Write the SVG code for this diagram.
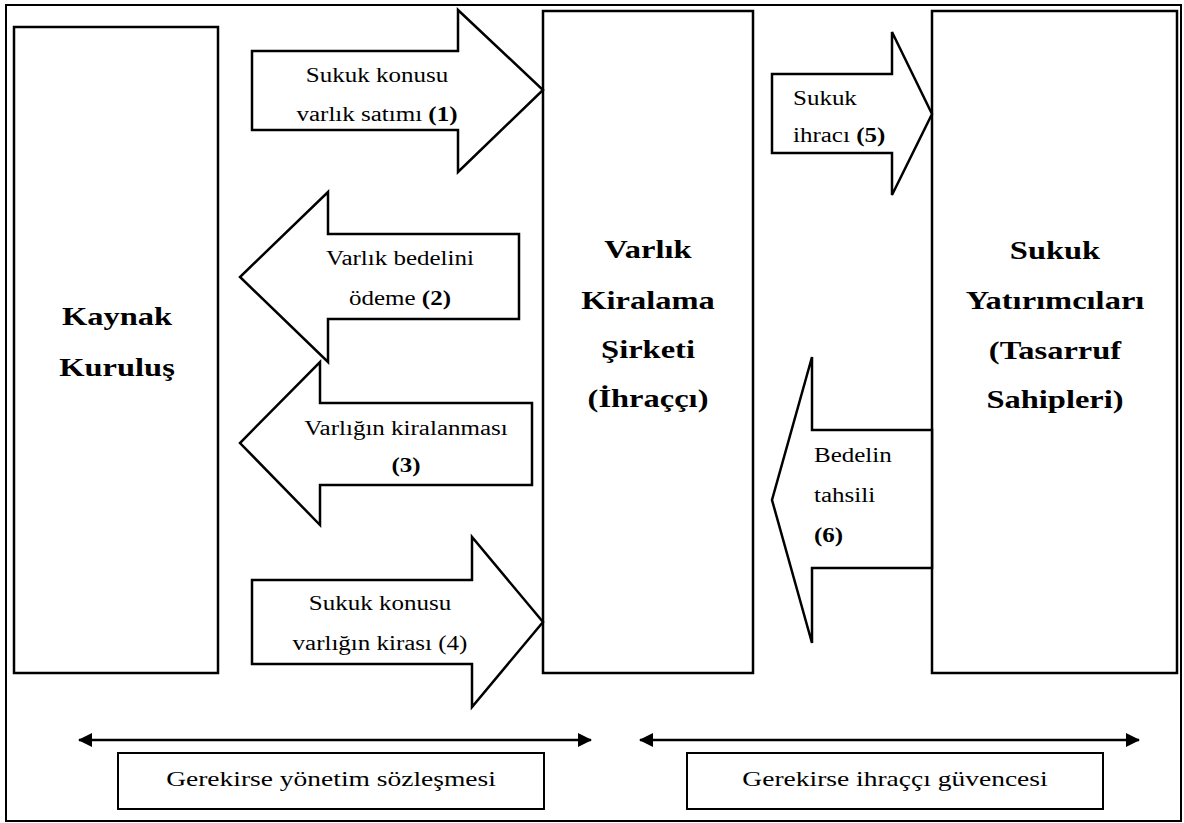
<svg xmlns="http://www.w3.org/2000/svg" width="1184" height="823" viewBox="0 0 1184 823">
<style>
  .box { fill: #fff; stroke: #000; stroke-width: 2.5; }
  .arr { fill: #fff; stroke: #000; stroke-width: 2.5; stroke-linejoin: miter; }
  .frame { fill: #fff; stroke: #000; stroke-width: 2; }
  .lbl { fill: #000; font-family: "Liberation Serif", "Times New Roman", serif; }
  .big { font-size: 26px; font-weight: bold; text-anchor: middle; }
  .mid { font-size: 20px; text-anchor: middle; }
  .left { font-size: 20px; text-anchor: start; }
  .bot { font-size: 22px; text-anchor: middle; }
  .b { font-weight: bold; }
  .dline { stroke: #000; stroke-width: 2.5; fill: none; }
</style>
<defs>
  <marker id="ah" viewBox="0 0 14 14" refX="13" refY="7" markerWidth="14" markerHeight="14" markerUnits="userSpaceOnUse" orient="auto-start-reverse">
    <path d="M0,0 L14,7 L0,14 Z" fill="#000"/>
  </marker>
</defs>
<rect x="0" y="0" width="1184" height="823" fill="#fff"/>
<rect class="frame" x="6" y="5" width="1175" height="816"/>

<g id="kaynak">
  <rect class="box" x="14" y="27" width="204" height="646"/>
  <g transform="translate(117 0) scale(1.25 1)">
    <text class="lbl big" x="0" y="325">Kaynak</text>
    <text class="lbl big" x="0" y="376">Kuruluş</text>
  </g>
</g>

<g id="sirket">
  <rect class="box" x="543" y="11" width="210" height="662"/>
  <g transform="translate(648 0) scale(1.25 1)">
    <text class="lbl big" x="0" y="258">Varlık</text>
    <text class="lbl big" x="0" y="309">Kiralama</text>
    <text class="lbl big" x="0" y="358">Şirketi</text>
    <text class="lbl big" x="0" y="407">(İhraççı)</text>
  </g>
</g>

<g id="yatirimcilar">
  <rect class="box" x="932" y="11" width="245" height="662"/>
  <g transform="translate(1055 0) scale(1.25 1)">
    <text class="lbl big" x="0" y="259">Sukuk</text>
    <text class="lbl big" x="0" y="309">Yatırımcıları</text>
    <text class="lbl big" x="0" y="359">(Tasarruf</text>
    <text class="lbl big" x="0" y="408">Sahipleri)</text>
  </g>
</g>

<g id="connectors">
  <g id="arrow1">
    <polygon class="arr" points="252,51 458,51 458,10 543,90 458,172 458,130 252,130"/>
    <g transform="translate(377 0) scale(1.25 1)">
      <text class="lbl mid" x="0" y="82">Sukuk konusu</text>
      <text class="lbl mid" x="0" y="121">varlık satımı <tspan class="b">(1)</tspan></text>
    </g>
  </g>
  <g id="arrow2">
    <polygon class="arr" points="519,234 328,234 328,192 240,277 328,362 328,319 519,319"/>
    <g transform="translate(400 0) scale(1.25 1)">
      <text class="lbl mid" x="0" y="265">Varlık bedelini</text>
      <text class="lbl mid" x="0" y="305">ödeme <tspan class="b">(2)</tspan></text>
    </g>
  </g>
  <g id="arrow3">
    <polygon class="arr" points="532,403 320,403 320,362 240,443 320,525 320,485 532,485"/>
    <g transform="translate(406 0) scale(1.25 1)">
      <text class="lbl mid" x="0" y="435">Varlığın kiralanması</text>
      <text class="lbl mid b" x="0" y="472">(3)</text>
    </g>
  </g>
  <g id="arrow4">
    <polygon class="arr" points="252,580 472,580 472,537 543,622 472,707 472,664 252,664"/>
    <g transform="translate(380 0) scale(1.25 1)">
      <text class="lbl mid" x="0" y="610">Sukuk konusu</text>
      <text class="lbl mid" x="0" y="650">varlığın kirası (4)</text>
    </g>
  </g>
  <g id="arrow5">
    <polygon class="arr" points="772,74 892,74 892,32 932,114 892,195 892,153 772,153"/>
    <g transform="translate(793 0) scale(1.25 1)">
      <text class="lbl left" x="0" y="105">Sukuk</text>
      <text class="lbl left" x="0" y="142">ihracı <tspan class="b">(5)</tspan></text>
    </g>
  </g>
  <g id="arrow6">
    <polygon class="arr" points="932,430 812,430 812,357 772,500 812,643 812,568 932,568"/>
    <g transform="translate(814 0) scale(1.25 1)">
      <text class="lbl left" x="0" y="462">Bedelin</text>
      <text class="lbl left" x="0" y="502">tahsili</text>
      <text class="lbl left b" x="0" y="542">(6)</text>
    </g>
  </g>
  <line id="dbl1" class="dline" x1="79" y1="740" x2="591" y2="740" marker-start="url(#ah)" marker-end="url(#ah)"/>
  <line id="dbl2" class="dline" x1="640" y1="740" x2="1139" y2="740" marker-start="url(#ah)" marker-end="url(#ah)"/>
</g>

<g id="yonetim">
  <rect class="box" x="118" y="753" width="426" height="56" style="stroke-width:2"/>
  <g transform="translate(331 0) scale(1.25 1)">
    <text class="lbl bot" x="0" y="786">Gerekirse yönetim sözleşmesi</text>
  </g>
</g>

<g id="guvence">
  <rect class="box" x="687" y="753" width="416" height="56" style="stroke-width:2"/>
  <g transform="translate(895 0) scale(1.25 1)">
    <text class="lbl bot" x="0" y="786">Gerekirse ihraççı güvencesi</text>
  </g>
</g>
</svg>
